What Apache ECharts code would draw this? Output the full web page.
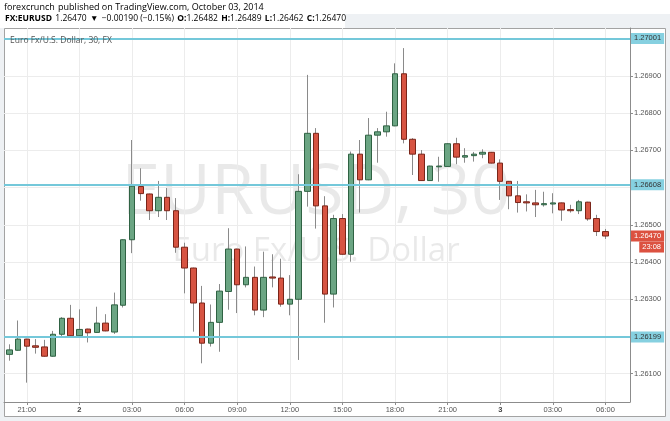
<!DOCTYPE html>
<html><head><meta charset="utf-8">
<script src="https://cdn.jsdelivr.net/npm/echarts@6/dist/echarts.min.js"></script>
<style>html,body{margin:0;padding:0;background:#eef1f4}#c{width:670px;height:421px}</style>
</head><body><div id="c"></div>
<script>
const times = ['10-01 20:00','10-01 20:30','10-01 21:00','10-01 21:30','10-01 22:00','10-01 22:30','10-01 23:00','10-01 23:30',
'10-02 00:00','10-02 00:30','10-02 01:00','10-02 01:30','10-02 02:00','10-02 02:30','10-02 03:00','10-02 03:30',
'10-02 04:00','10-02 04:30','10-02 05:00','10-02 05:30','10-02 06:00','10-02 06:30','10-02 07:00','10-02 07:30',
'10-02 08:00','10-02 08:30','10-02 09:00','10-02 09:30','10-02 10:00','10-02 10:30','10-02 11:00','10-02 11:30',
'10-02 12:00','10-02 12:30','10-02 13:00','10-02 13:30','10-02 14:00','10-02 14:30','10-02 15:00','10-02 15:30',
'10-02 16:00','10-02 16:30','10-02 17:00','10-02 17:30','10-02 18:00','10-02 18:30','10-02 19:00','10-02 19:30',
'10-02 20:00','10-02 20:30','10-02 21:00','10-02 21:30','10-02 22:00','10-02 22:30','10-02 23:00','10-02 23:30',
'10-03 00:00','10-03 00:30','10-03 01:00','10-03 01:30','10-03 02:00','10-03 02:30','10-03 03:00','10-03 03:30',
'10-03 04:00','10-03 04:30','10-03 05:00','10-03 05:30','10-03 06:00'];
const opens = [1.26152,1.26163,1.26193,1.26175,1.26172,1.26147,1.26206,1.26249,1.26202,1.26220,1.26211,1.26236,1.26212,1.26284,1.26460,1.26603,
1.26583,1.26538,1.26574,1.26538,1.26440,1.26384,1.26290,1.26182,1.26238,1.26321,1.26435,1.26339,1.26359,1.26271,1.26360,1.26357,
1.26287,1.26300,1.26590,1.26746,1.26551,1.26314,1.26517,1.26421,1.26690,1.26621,1.26741,1.26750,1.26766,1.26906,1.26730,1.26690,
1.26619,1.26656,1.26657,1.26718,1.26682,1.26686,1.26690,1.26695,1.26666,1.26617,1.26578,1.26562,1.26559,1.26554,1.26556,1.26559,
1.26541,1.26538,1.26561,1.26517,1.26482];
const closes = [1.26164,1.26193,1.26174,1.26171,1.26147,1.26206,1.26249,1.26202,1.26219,1.26210,1.26236,1.26215,1.26285,1.26460,1.26604,1.26584,
1.26538,1.26574,1.26538,1.26440,1.26384,1.26290,1.26182,1.26238,1.26322,1.26435,1.26339,1.26359,1.26271,1.26359,1.26357,1.26287,
1.26300,1.26590,1.26746,1.26551,1.26314,1.26517,1.26421,1.26690,1.26621,1.26741,1.26750,1.26766,1.26906,1.26730,1.26690,1.26619,
1.26658,1.26658,1.26718,1.26682,1.26686,1.26690,1.26695,1.26666,1.26617,1.26578,1.26560,1.26559,1.26554,1.26557,1.26559,1.26540,
1.26538,1.26562,1.26516,1.26482,1.26470];
const lows = [1.26135,1.26162,1.26076,1.26154,1.26146,1.26146,1.26200,1.26201,1.26201,1.26184,1.26210,1.26214,1.26207,1.26278,1.26424,1.26565,
1.26513,1.26521,1.26513,1.26425,1.26316,1.26213,1.26128,1.26173,1.26159,1.26272,1.26263,1.26332,1.26257,1.26252,1.26332,1.26280,
1.26257,1.26137,1.26549,1.26490,1.26237,1.26278,1.26420,1.26401,1.26533,1.26620,1.26667,1.26737,1.26765,1.26719,1.26634,1.26618,
1.26618,1.26616,1.26656,1.26663,1.26667,1.26670,1.26679,1.26665,1.26567,1.26542,1.26533,1.26536,1.26521,1.26549,1.26531,1.26511,
1.26533,1.26529,1.26511,1.26470,1.26462];
const highs = [1.26179,1.26243,1.26194,1.26193,1.26191,1.26215,1.26252,1.26285,1.26273,1.26221,1.26280,1.26260,1.26318,1.26461,1.26728,1.26652,
1.26584,1.26618,1.26599,1.26572,1.26452,1.26385,1.26336,1.26286,1.26341,1.26491,1.26436,1.26442,1.26388,1.26428,1.26421,1.26409,
1.26365,1.26636,1.26903,1.26760,1.26577,1.26527,1.26529,1.26697,1.26728,1.26787,1.26760,1.26804,1.26934,1.26975,1.26733,1.26701,
1.26659,1.26683,1.26719,1.26734,1.26706,1.26696,1.26703,1.26696,1.26676,1.26618,1.26618,1.26582,1.26594,1.26589,1.26585,1.26560,
1.26554,1.26567,1.26562,1.26527,1.26489];
const tickIndex = [2,8,14,20,26,32,38,44,50,56,62,68];
const tickLabels = ['21:00','2','03:00','06:00','09:00','12:00','15:00','18:00','21:00','3','03:00','06:00'];
const dayLabels = ['2','3'];
const yGridValues = [1.261,1.262,1.263,1.264,1.265,1.266,1.267,1.268,1.269,1.270];
const yLabelValues = [1.261,1.263,1.264,1.265,1.267,1.268,1.269];
const levels = [1.27001,1.26608,1.26199];
const lastPrice = 1.26470;
const countdown = '23:08';

const wickData = opens.map((o,i)=>[i,o,closes[i],lows[i],highs[i]]);
const bodyData = opens.map((o,i)=>[i,o,closes[i],Math.min(o,closes[i]),Math.max(o,closes[i])]);

const chart = echarts.init(document.getElementById('c'), null, {renderer:'canvas'});
const FONT = 'Liberation Sans';
const HF = 'Open Sans';

function levelSeries(v, idx, lineColor, labelBg, labelColor, showLine){
  return {type:'line', name:'level'+idx, data:[], z:2, silent:true,
    markLine:{silent:true, symbol:'none', animation:false, precision:6,
      lineStyle:{color:showLine?lineColor:'rgba(0,0,0,0)', width:showLine?2:0, type:'solid'},
      label:{show:true, position:'end', distance:1, formatter:v.toFixed(5), fontSize:7.5, fontFamily:FONT, color:labelColor,
        backgroundColor:labelBg, padding:[2,3,1,3]},
      data:[{name:'L'+idx, yAxis:v}]}};
}

const option = {
  animation:false,
  backgroundColor:'#eef1f4',
  grid:{left:4, right:40, top:28, bottom:19, containLabel:false, outerBoundsMode:'none'},
  xAxis:{
    type:'value', min:-0.6, max:70.8,
    axisLine:{show:true, onZero:false, lineStyle:{color:'#8c8c8c'}},
    axisTick:{show:true, customValues:tickIndex, length:3, lineStyle:{color:'#8c8c8c'}},
    axisLabel:{customValues:tickIndex, fontSize:7.5, color:'#555', fontFamily:FONT, margin:4,
      formatter:v=>{const k=tickIndex.indexOf(Math.round(v)); const t=k>=0?tickLabels[k]:''; return dayLabels.indexOf(t)>=0?'{d|'+t+'}':t;},
      rich:{d:{fontWeight:'bold', fontSize:7.5, color:'#444', fontFamily:FONT}}},
    splitLine:{show:true, lineStyle:{color:'#ececec', width:1}}
  },
  yAxis:{
    type:'value', position:'right', min:1.26024, max:1.27029,
    axisLine:{show:true, onZero:false, lineStyle:{color:'#8c8c8c'}},
    axisTick:{show:true, customValues:yGridValues, length:3, lineStyle:{color:'#8c8c8c'}},
    axisLabel:{customValues:yLabelValues, formatter:v=>v.toFixed(5), fontSize:7.5, color:'#555', fontFamily:FONT, margin:4},
    splitLine:{show:true, lineStyle:{color:'#ececec', width:1}}
  },
  series:[
    {type:'candlestick', name:'wick', data:wickData, encode:{x:0,y:[1,2,3,4]}, barWidth:1, z:2,
      itemStyle:{color:'#888', color0:'#888', borderColor:'#8a8a8a', borderColor0:'#8a8a8a', borderWidth:1}}
  ].concat(levels.map((v,i)=>levelSeries(v,i,'#74c8da','#86d0e0','#333',true)))
   .concat([levelSeries(lastPrice,9,'#dc5140','#dc5140','#fff',false)])
   .concat([
    {type:'candlestick', name:'body', data:bodyData, encode:{x:0,y:[1,2,3,4]}, barWidth:6, z:3,
      itemStyle:{color:'#6ba583', color0:'#d75442', borderColor:'#2f6243', borderColor0:'#7a2519', borderWidth:1}}
  ]),
  graphic:[
    {type:'rect', z:-20, silent:true, shape:{x:0,y:0,width:670,height:14}, style:{fill:'#ffffff'}},
    {type:'rect', z:-20, silent:true, shape:{x:0,y:14,width:345,height:14}, style:{fill:'#ffffff'}},
    {type:'rect', z:-20, silent:true, shape:{x:4.5,y:28.5,width:661,height:388}, style:{fill:'#ffffff', stroke:'#a3a3a3', lineWidth:1}},
    {type:'text', z:-5, silent:true, x:316, y:194, style:{text:'EURUSD, 30', fontSize:70, fontFamily:HF, fill:'rgba(0,0,0,0.085)', align:'center', verticalAlign:'middle'}},
    {type:'text', z:-5, silent:true, x:316, y:252, style:{text:'Euro Fx/U.S. Dollar', fontSize:33, fontFamily:HF, fill:'rgba(0,0,0,0.085)', align:'center', verticalAlign:'middle'}},
    {type:'text', z:10, silent:true, x:4, y:7, style:{text:'{a|forexcrunch} {b|published on TradingView.com, October 03, 2014}', verticalAlign:'middle',
      rich:{a:{fontSize:9, fontFamily:HF, color:'#2f8dd0'}, b:{fontSize:9, fontFamily:HF, color:'#444'}}}},
    {type:'text', z:10, silent:true, x:5, y:19, style:{text:'{k|FX:EURUSD} {v|1.26470} {r|▼} {v|−0.00190 (−0.15%)} {k|O:}{r|1.26482} {k|H:}{r|1.26489} {k|L:}{r|1.26462} {k|C:}{r|1.26470}', verticalAlign:'middle',
      rich:{k:{fontSize:8.5, fontFamily:HF, fontWeight:'bold', color:'#333'}, v:{fontSize:8.5, fontFamily:HF, color:'#333'}, r:{fontSize:8.5, fontFamily:HF, color:'#c23a2b'}}}},
    {type:'text', z:10, silent:true, x:10, y:41, style:{text:'Euro Fx/U.S. Dollar, 30, FX', fontSize:8.5, fontFamily:HF, fill:'#555', verticalAlign:'middle'}}
  ]
};
chart.setOption(option);
const py = chart.convertToPixel({yAxisIndex:0}, lastPrice);
chart.setOption({graphic:[{id:'cd', type:'text', z:10, silent:true, x:664, y:py+11,
  style:{text:countdown, fontSize:7.5, fontFamily:FONT, fill:'#fff', align:'right', verticalAlign:'middle', backgroundColor:'#dc5140', padding:[2,3,1,3]}}]});
</script></body></html>
